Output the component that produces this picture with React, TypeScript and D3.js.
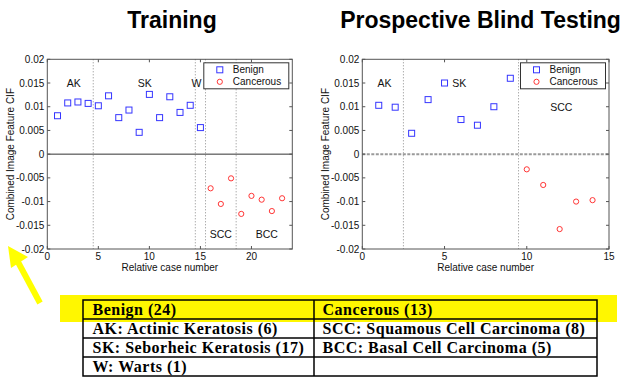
import React from "react";
import * as d3 from "d3";

const trainBenignX = [1, 2, 3, 4, 5, 6, 7, 8, 9, 10, 11, 12, 13, 14, 15];
const trainBenignY = [0.0081, 0.0108, 0.011, 0.0107, 0.0102, 0.0123, 0.0077, 0.0093, 0.0046, 0.0126, 0.0077, 0.0121, 0.0088, 0.0103, 0.0056];
const trainCancerX = [16, 17, 18, 19, 20, 21, 22, 23];
const trainCancerY = [-0.0072, -0.0105, -0.0051, -0.0126, -0.0088, -0.0096, -0.012, -0.0093];

const testBenignX = [1, 2, 3, 4, 5, 6, 7, 8, 9];
const testBenignY = [0.0103, 0.0099, 0.0044, 0.0115, 0.015, 0.0073, 0.0061, 0.01, 0.016];
const testCancerX = [10, 11, 12, 13, 14];
const testCancerY = [-0.0032, -0.0065, -0.0158, -0.01, -0.0097];

const trainDividers = [4.5, 14.5, 15.5, 18.5];
const testDividers = [2.5, 9.5];

const trainRegionText = ["AK", "SK", "W", "SCC", "BCC"];
const trainRegionX = [2.6, 9.55, 14.6, 17.0, 21.5];
const trainRegionY = [0.015, 0.015, 0.015, -0.0169, -0.0169];
const testRegionText = ["AK", "SK", "SCC"];
const testRegionX = [1.35, 5.9, 12.1];
const testRegionY = [0.015, 0.015, 0.01];

const yTicks = [-0.02, -0.015, -0.01, -0.005, 0, 0.005, 0.01, 0.015, 0.02];
const trainXTicks = [0, 5, 10, 15, 20];
const testXTicks = [0, 5, 10, 15];

const legendLabels = ["Benign", "Cancerous"];
const titles = ["Training", "Prospective Blind Testing"];
const xLabel = "Relative case number";
const yLabel = "Combined Image Feature CIF";

const tableLeft = ["Benign (24)", "AK: Actinic Keratosis (6)", "SK: Seborheic Keratosis (17)", "W: Warts (1)"];
const tableRight = ["Cancerous (13)", "SCC: Squamous Cell Carcinoma (8)", "BCC: Basal Cell Carcinoma (5)", ""];

const SANS = "'Liberation Sans', Arial, sans-serif";
const SERIF = "'Liberation Serif', 'Times New Roman', serif";
const BLUE = "#3535ff";
const RED = "#ff3535";

type PlotProps = {
  left: number;
  right: number;
  top: number;
  bottom: number;
  xMax: number;
  xTicks: number[];
  bX: number[];
  bY: number[];
  cX: number[];
  cY: number[];
  dividers: number[];
  rText: string[];
  rX: number[];
  rY: number[];
  dashedZero: boolean;
};

function fmt(v: number) {
  return String(+v.toFixed(3));
}

function Plot(p: PlotProps) {
  const x = d3.scaleLinear().domain([0, p.xMax]).range([p.left, p.right]);
  const y = d3.scaleLinear().domain([-0.02, 0.02]).range([p.bottom, p.top]);
  const tl = 3;
  const legW = 85;
  const legH = 26;
  const legX = p.right - 3.5 - legW;
  const legY = p.top + 3.5;
  return (
    <g>
      {/* dividers */}
      {p.dividers.map((d, i) => (
        <line key={"d" + i} x1={x(d)} x2={x(d)} y1={p.top} y2={p.bottom} stroke="#8a8a8a" strokeWidth={1} strokeDasharray="1,2" />
      ))}
      {/* zero line */}
      {p.dashedZero ? (
        <line x1={p.left} x2={p.right} y1={y(0)} y2={y(0)} stroke="#9a9a9a" strokeWidth={2} strokeDasharray="3,1.5" />
      ) : (
        <line x1={p.left} x2={p.right} y1={y(0)} y2={y(0)} stroke="#333" strokeWidth={1} />
      )}
      {/* box */}
      <rect x={p.left} y={p.top} width={p.right - p.left} height={p.bottom - p.top} fill="none" stroke="#555" strokeWidth={1} />
      {/* ticks */}
      {yTicks.map((t, i) => (
        <g key={"yt" + i}>
          <line x1={p.left} x2={p.left + tl} y1={y(t)} y2={y(t)} stroke="#555" />
          <line x1={p.right} x2={p.right - tl} y1={y(t)} y2={y(t)} stroke="#555" />
          <text x={p.left - 3} y={y(t)} dy="0.35em" textAnchor="end" fontFamily={SANS} fontSize={10} fill="#111">
            {fmt(t)}
          </text>
        </g>
      ))}
      {p.xTicks.map((t, i) => (
        <g key={"xt" + i}>
          <line x1={x(t)} x2={x(t)} y1={p.bottom} y2={p.bottom - tl} stroke="#555" />
          <line x1={x(t)} x2={x(t)} y1={p.top} y2={p.top + tl} stroke="#555" />
          <text x={x(t)} y={p.bottom + 10.5} textAnchor="middle" fontFamily={SANS} fontSize={10} fill="#111">
            {t}
          </text>
        </g>
      ))}
      <text x={(p.left + p.right) / 2} y={p.bottom + 21.5} textAnchor="middle" fontFamily={SANS} fontSize={10} fill="#111">
        {xLabel}
      </text>
      <text
        transform={`translate(${p.left - 33.5},${(p.top + p.bottom) / 2}) rotate(-90)`}
        textAnchor="middle"
        fontFamily={SANS}
        fontSize={10}
        fill="#111"
      >
        {yLabel}
      </text>
      {/* region labels */}
      {p.rText.map((t, i) => (
        <text key={"r" + i} x={x(p.rX[i])} y={y(p.rY[i])} dy="0.36em" textAnchor="middle" fontFamily={SANS} fontSize={10.5} fill="#111">
          {t}
        </text>
      ))}
      {/* markers */}
      {p.bX.map((v, i) => (
        <rect key={"b" + i} x={x(v) - 3} y={y(p.bY[i]) - 3} width={6} height={6} fill="none" stroke={BLUE} strokeWidth={1} />
      ))}
      {p.cX.map((v, i) => (
        <circle key={"c" + i} cx={x(v)} cy={y(p.cY[i])} r={2.6} fill="none" stroke={RED} strokeWidth={1} />
      ))}
      {/* legend */}
      <rect x={legX} y={legY} width={legW} height={legH} fill="#fff" stroke="#333" strokeWidth={1} />
      <rect x={legX + 13} y={legY + 4} width={6} height={6} fill="none" stroke={BLUE} />
      <circle cx={legX + 16} cy={legY + 19} r={2.6} fill="none" stroke={RED} />
      <text x={legX + 29} y={legY + 10.5} fontFamily={SANS} fontSize={10} fill="#111">
        {legendLabels[0]}
      </text>
      <text x={legX + 29} y={legY + 22.5} fontFamily={SANS} fontSize={10} fill="#111">
        {legendLabels[1]}
      </text>
    </g>
  );
}

export default function App() {
  const tX = [83, 314, 597];
  const rowY = [300, 319, 338, 357, 376];
  return (
    <svg width={639} height={384} style={{ position: "absolute", left: 0, top: 0, background: "#fff" }}>
      <rect x={0} y={0} width={639} height={384} fill="#fff" />
      <text x={172} y={28} textAnchor="middle" fontFamily={SANS} fontWeight="bold" fontSize={23} fill="#000">
        {titles[0]}
      </text>
      <text x={480.5} y={28} textAnchor="middle" fontFamily={SANS} fontWeight="bold" fontSize={23} fill="#000">
        {titles[1]}
      </text>
      <Plot
        left={47.3}
        right={292.3}
        top={59.3}
        bottom={249}
        xMax={24}
        xTicks={trainXTicks}
        bX={trainBenignX}
        bY={trainBenignY}
        cX={trainCancerX}
        cY={trainCancerY}
        dividers={trainDividers}
        rText={trainRegionText}
        rX={trainRegionX}
        rY={trainRegionY}
        dashedZero={false}
      />
      <Plot
        left={362.3}
        right={609}
        top={59.3}
        bottom={249}
        xMax={15}
        xTicks={testXTicks}
        bX={testBenignX}
        bY={testBenignY}
        cX={testCancerX}
        cY={testCancerY}
        dividers={testDividers}
        rText={testRegionText}
        rX={testRegionX}
        rY={testRegionY}
        dashedZero={true}
      />
      {/* arrow */}
      <line x1={40} y1={303} x2={18} y2={262} stroke="#ffff00" strokeWidth={6} />
      <polygon points="8,246 28,257 11,268" fill="#ffff00" />
      {/* yellow band */}
      <rect x={60} y={295} width={557} height={27} fill="#fff700" />
      {/* table */}
      <rect x={tX[0]} y={rowY[0]} width={tX[2] - tX[0]} height={rowY[4] - rowY[0]} fill="none" stroke="#000" strokeWidth={1.5} />
      {rowY.slice(1, 4).map((r, i) => (
        <line key={"rl" + i} x1={tX[0]} x2={tX[2]} y1={r} y2={r} stroke="#000" strokeWidth={1.5} />
      ))}
      <line x1={tX[1]} x2={tX[1]} y1={rowY[0]} y2={rowY[4]} stroke="#000" strokeWidth={1.5} />
      {tableLeft.map((t, i) => (
        <text key={"tl" + i} x={tX[0] + 9.5} y={rowY[i + 1] - 4.3} fontFamily={SERIF} fontWeight="bold" fontSize={16} letterSpacing={0.5} fill="#000">
          {t}
        </text>
      ))}
      {tableRight.map((t, i) => (
        <text key={"tr" + i} x={tX[1] + 8.5} y={rowY[i + 1] - 4.3} fontFamily={SERIF} fontWeight="bold" fontSize={16} letterSpacing={0.5} fill="#000">
          {t}
        </text>
      ))}
    </svg>
  );
}
